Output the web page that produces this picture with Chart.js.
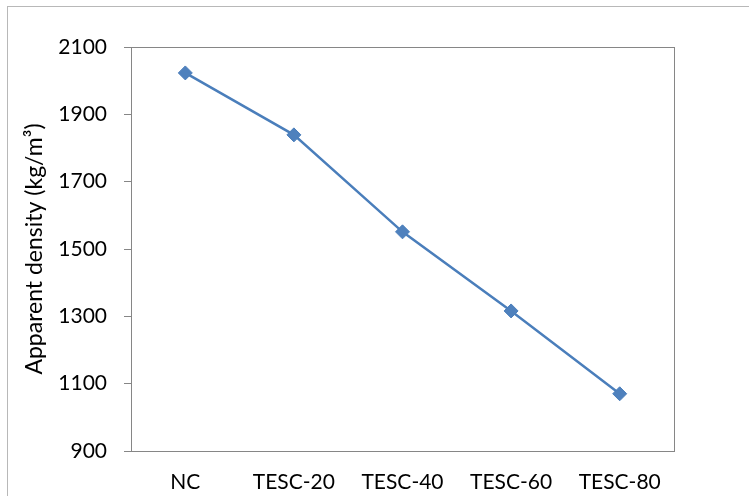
<!DOCTYPE html>
<html>
<head>
<meta charset="utf-8">
<script src="https://cdn.jsdelivr.net/npm/chart.js@4/dist/chart.umd.min.js"></script>
<style>
  html, body { margin: 0; padding: 0; background: #fff; }
  #wrap { position: relative; width: 749px; height: 496px; }
  #frame { position: absolute; left: 7px; top: 6px; width: 760px; height: 500px;
           border-top: 1px solid #b8b8b8; border-left: 1px solid #b8b8b8; box-sizing: border-box; }
  canvas { position: absolute; left: 0; top: 0; }
</style>
</head>
<body>
<div id="wrap">
  <div id="frame"></div>
  <canvas id="c" width="749" height="496"></canvas>
</div>
<script>
const categories = ["NC", "TESC-20", "TESC-40", "TESC-60", "TESC-80"];
const densityValues = [2023, 1839, 1551, 1316, 1070];
const yTicks = [900, 1100, 1300, 1500, 1700, 1900, 2100];
const yTitle = "Apparent density (kg/m\u00B3)";

const FONT = "Lato, 'Liberation Sans', sans-serif";

const boxPlugin = {
  id: 'plotBox',
  afterDraw(chart) {
    const a = chart.chartArea;
    const ctx = chart.ctx;
    ctx.save();
    ctx.strokeStyle = '#868686';
    ctx.lineWidth = 1;
    ctx.strokeRect(Math.round(a.left) + 0.5, Math.round(a.top) + 0.5,
                   Math.round(a.right - a.left), Math.round(a.bottom - a.top));
    ctx.restore();
  }
};

new Chart(document.getElementById('c'), {
  type: 'line',
  data: {
    labels: categories,
    datasets: [{
      data: densityValues,
      borderColor: '#4A7EBB',
      borderWidth: 2.5,
      backgroundColor: '#4F81BD',
      pointBackgroundColor: '#4F81BD',
      pointBorderColor: '#4A7EBB',
      pointBorderWidth: 1,
      pointStyle: 'rectRot',
      pointRadius: 7,
      tension: 0,
      fill: false
    }]
  },
  options: {
    responsive: false,
    animation: false,
    devicePixelRatio: 1,
    layout: { padding: { left: 0, right: 75, top: 47, bottom: 0 } },
    plugins: { legend: { display: false }, tooltip: { enabled: false } },
    scales: {
      x: {
        type: 'category',
        offset: true,
        grid: { display: false, drawTicks: false },
        border: { display: true, color: '#868686' },
        ticks: { color: '#000', padding: 19, font: { family: FONT, size: 21 }, maxRotation: 0 },
        afterFit(s) { s.height = 45; }
      },
      y: {
        min: 900, max: 2100,
        afterBuildTicks(s) { s.ticks = yTicks.map(v => ({ value: v })); },
        grid: { drawOnChartArea: false, drawTicks: true, tickLength: 7, color: '#868686' },
        border: { display: true, color: '#868686' },
        ticks: { color: '#000', padding: 17, font: { family: FONT, size: 21 },
                 callback: (v) => String(v) },
        title: { display: true, text: yTitle, color: '#000', font: { family: FONT, size: 23 },
                 padding: { top: 21, bottom: 0 } },
        afterFit(s) { s.width = 131; }
      }
    }
  },
  plugins: [boxPlugin]
});
</script>
</body>
</html>
